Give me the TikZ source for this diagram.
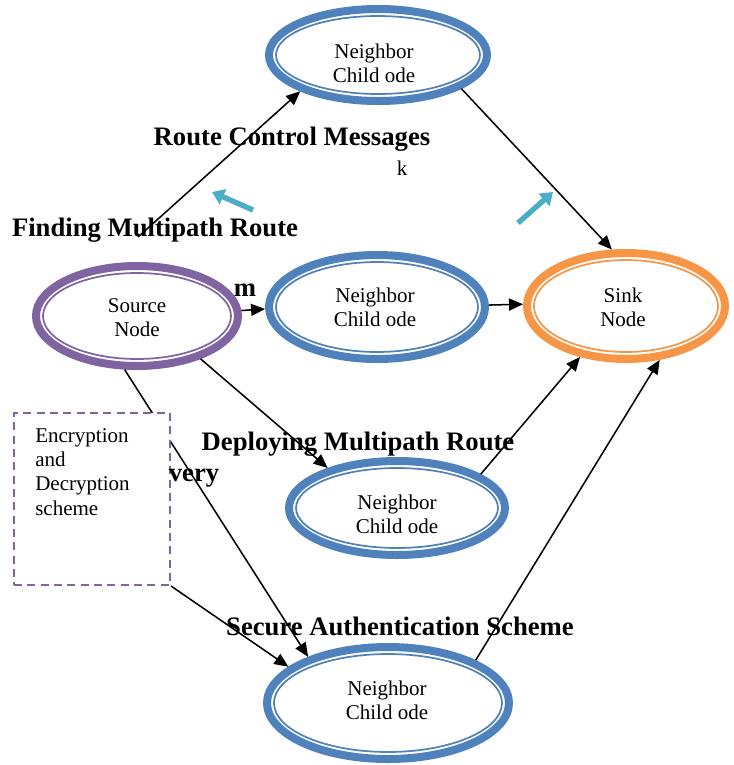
\documentclass[tikz,border=0pt]{standalone}
\usepackage{fontspec}
\setmainfont{Liberation Serif}
\usetikzlibrary{shapes.geometric,arrows.meta}

\definecolor{ringblue}{HTML}{4F81BD}
\definecolor{ringpurple}{HTML}{8064A2}
\definecolor{ringorange}{HTML}{F79646}
\definecolor{flowteal}{HTML}{4BACC6}

% two stacked lines whose baseline is the first line
\newcommand\twolines[2]{\begin{tabular}[t]{@{}c@{}}#1\\#2\end{tabular}}

% ring node: name, x, y, outer x radius, outer y radius (px), colour
\newcommand\ringnode[6]{%
  \node[ringshape, draw=#6, minimum width={(2*#4-8)*0.75pt},
        minimum height={(2*#5-8)*0.75pt}] (#1) at (#2,#3) {};
  \draw[#6, line width=1.3pt] (#1.center)
        ellipse [x radius={(#4-11)*0.75pt}, y radius={(#5-11)*0.75pt}];
}

\tikzset{
  ringshape/.style={ellipse, inner sep=0pt, line width=6pt, fill=white},
  ringtext/.style={anchor=base, inner sep=0pt,
                   font=\fontsize{15.75}{18.3}\selectfont},
  boldlabel/.style={anchor=base, inner sep=0pt,
                    font=\fontsize{20}{24}\selectfont\bfseries},
  link/.style={line width=1.15pt, -{Triangle[length=10.5pt,width=9pt]}},
  flow/.style={flowteal, line width=4pt, -{Triangle[length=9pt,width=12pt]}},
  keybox/.style={draw=ringpurple, line width=1.5pt, dash pattern=on 6pt off 4pt,
                 fill=white, minimum width=117pt, minimum height=129pt,
                 inner sep=0pt}
}

\begin{document}
\begin{tikzpicture}[x=0.75pt,y=-0.75pt]
\useasboundingbox (0,0) rectangle (734,765);

% nodes of the network
\ringnode{top}{378}{55}{113}{50}{ringblue}
\ringnode{src}{137}{316}{105}{54}{ringpurple}
\ringnode{mid}{377}{307}{112}{56}{ringblue}
\ringnode{snk}{626}{306}{103}{57}{ringorange}
\ringnode{dep}{397}{508}{112}{51}{ringblue}
\ringnode{bot}{388}{703}{125}{60}{ringblue}

\node[ringtext] (toptext) at (374,58) {\twolines{Neighbor}{Child ode}};
\node[ringtext] (srctext) at (137,312) {\twolines{Source}{Node}};
\node[ringtext] (midtext) at (375,302) {\twolines{Neighbor}{Child ode}};
\node[ringtext] (snktext) at (623,302) {\twolines{Sink}{Node}};
\node[ringtext] (deptext) at (397,509) {\twolines{Neighbor}{Child ode}};
\node[ringtext] (bottext) at (387,695) {\twolines{Neighbor}{Child ode}};

% links between the nodes
\coordinate (f1) at (138,237);
\draw[link] (f1) -- (top.205);
\draw[link] (top.-22) -- (snk.104);
\draw[link] (src.3) -- (mid.181);
\draw[link] (mid.1) -- (snk.179);
\draw[link] (src.-34) -- (dep.150);
\draw[link] (dep.22) -- (snk.-132);
\draw[link] (src.-103) -- (bot.150);
\draw[link] (bot.26) -- (snk.-58);

% encryption scheme box
\node[keybox] (box) at (92,499) {};
\node[ringtext, anchor=base west] (boxtext) at (35,442)
  {\begin{tabular}[t]{@{}l@{}}Encryption\\and\\Decryption\\scheme\end{tabular}};
\draw[link] (box.south east) -- (bot.160);

% direction markers
\coordinate (t1a) at (253,210);
\coordinate (t1b) at (212,192);
\coordinate (t2a) at (518,223);
\coordinate (t2b) at (553,192);
\draw[flow] (t1a) -- (t1b);
\draw[flow] (t2a) -- (t2b);

% labels
\node[boldlabel] (lroute) at (292,145) {Route Control Messages};
\node[ringtext] (lk) at (402,175) {k};
\node[boldlabel] (lfind) at (155,236) {Finding Multipath Route};
\node[boldlabel] (lm) at (245,296) {m};
\node[boldlabel] (ldeploy) at (358,450) {Deploying Multipath Route};
\node[boldlabel] (lvery) at (194,481) {very};
\node[boldlabel] (lsecure) at (400,635) {Secure Authentication Scheme};
\end{tikzpicture}
\end{document}
